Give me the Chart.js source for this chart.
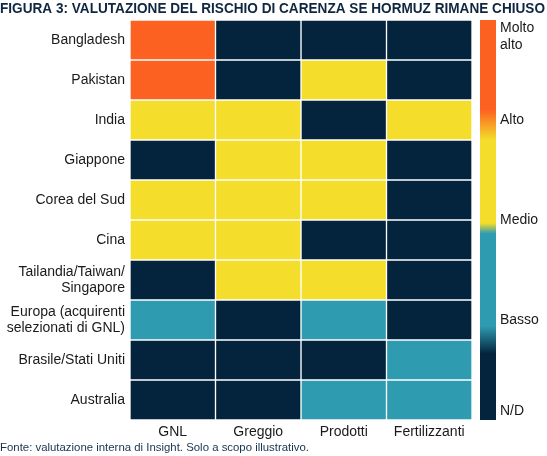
<!DOCTYPE html>
<html>
<head>
<meta charset="utf-8">
<script src="https://cdn.jsdelivr.net/npm/chart.js@4/dist/chart.umd.min.js"></script>
<style>
  html, body { margin: 0; padding: 0; background: #fff; }
  #wrap { width: 547px; height: 456px; position: relative; }
</style>
</head>
<body>
<div id="wrap"><canvas id="heat"></canvas></div>
<script>
/* ========================================================
   DATA
======================================================== */
const countries = [
    'Bangladesh', 'Pakistan', 'India', 'Giappone', 'Corea del Sud', 'Cina',
    ['Tailandia/Taiwan/', 'Singapore'],
    ['Europa (acquirenti', 'selezionati di GNL)'],
    'Brasile/Stati Uniti', 'Australia'
];
const products = ['GNL', 'Greggio', 'Prodotti', 'Fertilizzanti'];

// risk level per country: 0 = N/D, 1 = Basso, 2 = Medio, 3 = Alto, 4 = Molto alto
const gnl           = [4, 4, 3, 0, 3, 3, 0, 1, 0, 0];
const greggio       = [0, 0, 3, 3, 3, 3, 3, 0, 0, 0];
const prodotti      = [0, 3, 0, 3, 3, 0, 3, 1, 0, 1];
const fertilizzanti = [0, 0, 3, 0, 0, 0, 0, 0, 1, 1];

const levelLabels = ['N/D', 'Basso', 'Medio', 'Alto', ['Molto', 'alto']];
const levelTicks  = [0.09, 1, 2, 3, 3.83];

/* ========================================================
   STYLE
======================================================== */
const NAVY   = '#04233d';
const TEAL   = '#2f9bb0';
const YELLOW = '#f4dd2b';
const ORANGE = '#fd6122';
const levelColors = [NAVY, TEAL, YELLOW, YELLOW, ORANGE];

const FONT = '"Liberation Sans", Arial, sans-serif';

function noPad(axis) {
    axis.paddingTop = 0;
    axis.paddingBottom = 0;
    axis.paddingLeft = 0;
    axis.paddingRight = 0;
}

/* ========================================================
   PLUGINS
======================================================== */
const textPlugin = {
    id: 'texts',
    afterDraw(chart) {
        const ctx = chart.ctx;
        ctx.save();
        // title, squeezed to the full width
        ctx.fillStyle = '#0f2640';
        ctx.font = 'bold 15px "Liberation Sans Narrow", ' + FONT;
        ctx.textBaseline = 'alphabetic';
        const title = 'FIGURA 3: VALUTAZIONE DEL RISCHIO DI CARENZA SE HORMUZ RIMANE CHIUSO';
        const w = ctx.measureText(title).width;
        ctx.translate(0, 12.5);
        ctx.scale(545 / w, 1);
        ctx.fillText(title, 0, 0);
        ctx.restore();

        ctx.save();
        ctx.fillStyle = '#17324f';
        ctx.font = '10.5px ' + FONT;
        ctx.textBaseline = 'alphabetic';
        const foot = 'Fonte: valutazione interna di Insight. Solo a scopo illustrativo.';
        const fw = ctx.measureText(foot).width;
        ctx.translate(0, 450.5);
        ctx.scale(309 / fw, 1);
        ctx.fillText(foot, 0, 0);
        ctx.restore();
    }
};

const colorbarPlugin = {
    id: 'colorbar',
    afterDatasetsDraw(chart) {
        const ctx = chart.ctx;
        const cb  = chart.scales.cb;
        const top = cb.getPixelForValue(4);
        const bot = cb.getPixelForValue(0);
        const x   = chart.chartArea.right + 8;
        const g   = ctx.createLinearGradient(0, bot, 0, top);
        g.addColorStop(0,     NAVY);
        g.addColorStop(0.165, NAVY);
        g.addColorStop(0.235, TEAL);
        g.addColorStop(0.466, TEAL);
        g.addColorStop(0.492, YELLOW);
        g.addColorStop(0.70,  YELLOW);
        g.addColorStop(0.775, ORANGE);
        g.addColorStop(1,     ORANGE);
        ctx.save();
        ctx.fillStyle = g;
        ctx.fillRect(x, top, 16, bot - top);
        ctx.restore();
    }
};

/* ========================================================
   CHART
======================================================== */
const series = [gnl, greggio, prodotti, fertilizzanti];

new Chart(document.getElementById('heat'), {
    type: 'bar',
    data: {
        labels: countries,
        datasets: series.map((vals, i) => ({
            label: products[i],
            data: vals.map(() => 1),
            backgroundColor: vals.map(v => levelColors[v]),
            borderColor: '#ffffff',
            borderWidth: 1,
            borderSkipped: false,
            barPercentage: 1,
            categoryPercentage: 1,
            xAxisID: 'x',
            yAxisID: 'y'
        }))
    },
    options: {
        indexAxis: 'y',
        responsive: true,
        maintainAspectRatio: false,
        animation: false,
        layout: { padding: { top: 20, right: 0, bottom: 14, left: 0 } },
        plugins: {
            legend: { display: false },
            tooltip: { enabled: false }
        },
        scales: {
            x: {
                type: 'linear',
                stacked: true,
                min: 0,
                max: 4,
                grid: { display: false, drawTicks: false },
                border: { display: false },
                afterBuildTicks(axis) {
                    axis.ticks = products.map((p, i) => ({ value: i + 0.5 }));
                },
                afterFit(axis) { axis.height = 22; noPad(axis); },
                ticks: {
                    autoSkip: false,
                    maxRotation: 0,
                    padding: 4,
                    color: '#1a1a1a',
                    font: { family: FONT, size: 14 },
                    callback: (v, i) => products[i]
                }
            },
            y: {
                stacked: true,
                grid: { display: false, drawTicks: false },
                border: { display: false },
                afterFit(axis) { axis.width = 130; noPad(axis); },
                ticks: {
                    padding: 5,
                    color: '#1a1a1a',
                    font: { family: FONT, size: 14, lineHeight: 1.18 }
                }
            },
            cb: {
                type: 'linear',
                position: 'right',
                axis: 'y',
                offset: false,
                min: 0,
                max: 4,
                grid: { display: false, drawTicks: false, offset: false },
                border: { display: false },
                afterBuildTicks(axis) {
                    axis.ticks = levelTicks.map(v => ({ value: v }));
                },
                afterFit(axis) { axis.width = 75; noPad(axis); },
                ticks: {
                    padding: 28,
                    color: '#1a1a1a',
                    font: { family: FONT, size: 14, lineHeight: 1.2 },
                    callback: (v, i) => levelLabels[i]
                }
            }
        }
    },
    plugins: [colorbarPlugin, textPlugin]
});
</script>
</body>
</html>
